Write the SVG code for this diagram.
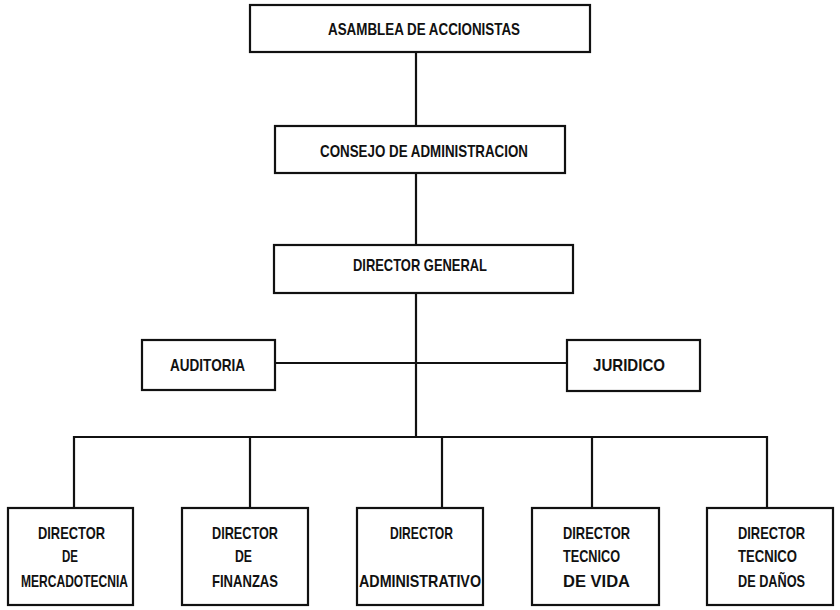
<svg xmlns="http://www.w3.org/2000/svg" width="840" height="610" viewBox="0 0 840 610">
<style>
.box{fill:#fff;stroke:#111;stroke-width:2.2}
.ln{fill:none;stroke:#111;stroke-width:2.2}
text{font-family:"Liberation Sans","DejaVu Sans",sans-serif;font-weight:bold;font-size:17px;fill:#111}
</style>
<rect width="840" height="610" fill="#fff"/>
<g id="connectors">
<line class="ln" x1="416" y1="52" x2="416" y2="126"/>
<line class="ln" x1="416" y1="173" x2="416" y2="245"/>
<line class="ln" x1="416" y1="293" x2="416" y2="437"/>
<line class="ln" x1="275" y1="363" x2="567" y2="363"/>
<polyline class="ln" points="74,508 74,437 767,437 767,508"/>
<line class="ln" x1="250" y1="437" x2="250" y2="508"/>
<line class="ln" x1="442" y1="437" x2="442" y2="508"/>
<line class="ln" x1="592" y1="437" x2="592" y2="508"/>
</g>
<g id="asamblea">
<rect class="box" x="250" y="5" width="340" height="47"/>
<text x="328" y="35" textLength="192" lengthAdjust="spacingAndGlyphs">ASAMBLEA DE ACCIONISTAS</text>
</g>
<g id="consejo">
<rect class="box" x="275" y="126" width="290" height="47"/>
<text x="320" y="157" textLength="208" lengthAdjust="spacingAndGlyphs">CONSEJO DE ADMINISTRACION</text>
</g>
<g id="director-general">
<rect class="box" x="274" y="245" width="299" height="48"/>
<text x="353" y="271" textLength="134" lengthAdjust="spacingAndGlyphs">DIRECTOR GENERAL</text>
</g>
<g id="auditoria">
<rect class="box" x="142" y="340" width="133" height="50"/>
<text x="170" y="371" textLength="75" lengthAdjust="spacingAndGlyphs">AUDITORIA</text>
</g>
<g id="juridico">
<rect class="box" x="567" y="340" width="133" height="51"/>
<text x="593" y="371" textLength="72" lengthAdjust="spacingAndGlyphs">JURIDICO</text>
</g>
<g id="dir-mercadotecnia">
<rect class="box" x="8" y="508" width="125" height="97"/>
<text x="38" y="539" textLength="67" lengthAdjust="spacingAndGlyphs">DIRECTOR</text>
<text x="62" y="562" textLength="16" lengthAdjust="spacingAndGlyphs">DE</text>
<text x="21" y="587" textLength="107" lengthAdjust="spacingAndGlyphs">MERCADOTECNIA</text>
</g>
<g id="dir-finanzas">
<rect class="box" x="182" y="508" width="126" height="97"/>
<text x="212" y="539" textLength="66" lengthAdjust="spacingAndGlyphs">DIRECTOR</text>
<text x="235" y="562" textLength="17" lengthAdjust="spacingAndGlyphs">DE</text>
<text x="212" y="587" textLength="66" lengthAdjust="spacingAndGlyphs">FINANZAS</text>
</g>
<g id="dir-administrativo">
<rect class="box" x="357" y="508" width="126" height="97"/>
<text x="390" y="539" textLength="63" lengthAdjust="spacingAndGlyphs">DIRECTOR</text>
<text x="359" y="587" textLength="122" lengthAdjust="spacingAndGlyphs">ADMINISTRATIVO</text>
</g>
<g id="dir-tecnico-vida">
<rect class="box" x="532" y="508" width="127" height="97"/>
<text x="563" y="539" textLength="67" lengthAdjust="spacingAndGlyphs">DIRECTOR</text>
<text x="563" y="562" textLength="57" lengthAdjust="spacingAndGlyphs">TECNICO</text>
<text x="563" y="587" textLength="67" lengthAdjust="spacingAndGlyphs">DE  VIDA</text>
</g>
<g id="dir-tecnico-danos">
<rect class="box" x="707" y="508" width="126" height="97"/>
<text x="738" y="539" textLength="67" lengthAdjust="spacingAndGlyphs">DIRECTOR</text>
<text x="738" y="562" textLength="59" lengthAdjust="spacingAndGlyphs">TECNICO</text>
<text x="738" y="587" textLength="67" lengthAdjust="spacingAndGlyphs">DE DAÑOS</text>
</g>
</svg>
